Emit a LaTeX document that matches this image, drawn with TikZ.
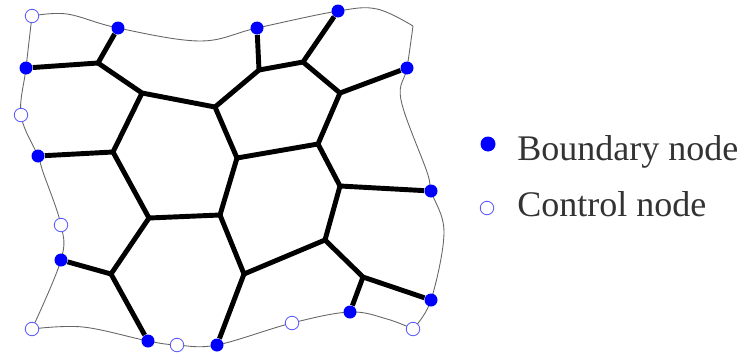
\documentclass[tikz,border=0pt]{standalone}
\usepackage{fontspec}
\setmainfont{Liberation Serif}
\usetikzlibrary{backgrounds}

\begin{document}
\begin{tikzpicture}[x=0.02cm,y=-0.02cm,
    bnd/.style={circle,fill=blue,inner sep=0pt,minimum size=0.26cm},
    ctl/.style={circle,draw=blue!65,fill=white,line width=0.5pt,inner sep=0pt,minimum size=0.27cm},
    edge/.style={line width=2.8pt,line join=round},
    rim/.style={gray!80!black,line width=0.5pt},
    legend/.style={anchor=base west,inner sep=0pt,text=black!80,font=\fontsize{20.5}{24}\selectfont}
]
    \useasboundingbox (0,0) rectangle (744,352);

    % boundary nodes
    \node[bnd] (b1) at (118,28) {};
    \node[bnd] (b2) at (26,68) {};
    \node[bnd] (b3) at (38,156) {};
    \node[bnd] (b4) at (257,28) {};
    \node[bnd] (b5) at (338,11) {};
    \node[bnd] (b6) at (407,68) {};
    \node[bnd] (b7) at (61,260) {};
    \node[bnd] (b8) at (148,341) {};
    \node[bnd] (b9) at (217,345) {};
    \node[bnd] (b10) at (431,191) {};
    \node[bnd] (b11) at (431,300) {};
    \node[bnd] (b12) at (350,312) {};

    % control nodes
    \node[ctl] (c1) at (32,16) {};
    \node[ctl] (c2) at (21,115) {};
    \node[ctl] (c3) at (61,225) {};
    \node[ctl] (c4) at (32,329) {};
    \node[ctl] (c5) at (177,345) {};
    \node[ctl] (c6) at (292,323) {};
    \node[ctl] (c7) at (413,329) {};

    % inner junctions
    \coordinate (j1) at (98,63);
    \coordinate (j2) at (142,93);
    \coordinate (j3) at (215,107);
    \coordinate (j4) at (113,152);
    \coordinate (j5) at (237,158);
    \coordinate (j6) at (259,70);
    \coordinate (j7) at (303,62);
    \coordinate (j8) at (340,93);
    \coordinate (j9) at (318,144);
    \coordinate (j10) at (149,218);
    \coordinate (j11) at (220,215);
    \coordinate (j12) at (111,274);
    \coordinate (j13) at (244,274);
    \coordinate (j14) at (340,186);
    \coordinate (j15) at (325,240);
    \coordinate (j16) at (363,277);
    \coordinate (tr) at (413,26);

    \begin{scope}[on background layer]
        % outer boundary
        \draw[rim] plot[smooth,tension=0.6] coordinates {(c1) (67,14) (b1) (200,41) (b4) (b5) (377,9) (tr)};
        \draw[rim] plot[smooth,tension=0.6] coordinates {(tr) (b6) (401,100) (427,172) (b10) (444,232) (b11) (c7)};
        \draw[rim] plot[smooth,tension=0.6] coordinates {(c7) (387,319) (b12) (c6) (b9) (c5) (b8) (83,327) (c4)};
        \draw[rim] plot[smooth,tension=0.6] coordinates {(c4) (b7) (c3) (43,172) (b3) (c2) (b2) (c1)};

        % cell edges
        \draw[edge] (b1) -- (j1) -- (b2);
        \draw[edge] (j1) -- (j2) -- (j3) -- (j5);
        \draw[edge] (j2) -- (j4) -- (b3);
        \draw[edge] (j3) -- (j6) -- (b4);
        \draw[edge] (j6) -- (j7) -- (b5);
        \draw[edge] (j7) -- (j8) -- (b6);
        \draw[edge] (j8) -- (j9) -- (j5);
        \draw[edge] (j4) -- (j10) -- (j11) -- (j5);
        \draw[edge] (j9) -- (j14) -- (b10);
        \draw[edge] (j14) -- (j15) -- (j13) -- (j11);
        \draw[edge] (j10) -- (j12) -- (b7);
        \draw[edge] (j12) -- (b8);
        \draw[edge] (j13) -- (b9);
        \draw[edge] (j15) -- (j16) -- (b11);
        \draw[edge] (j16) -- (b12);
    \end{scope}

    % legend
    \node[bnd,minimum size=0.3cm] (lb) at (488,144) {};
    \node[ctl] (lc) at (487,208) {};
    \node[legend] (tb) at (517,160) {Boundary node};
    \node[legend] (tc) at (517,216) {Control node};
\end{tikzpicture}
\end{document}
